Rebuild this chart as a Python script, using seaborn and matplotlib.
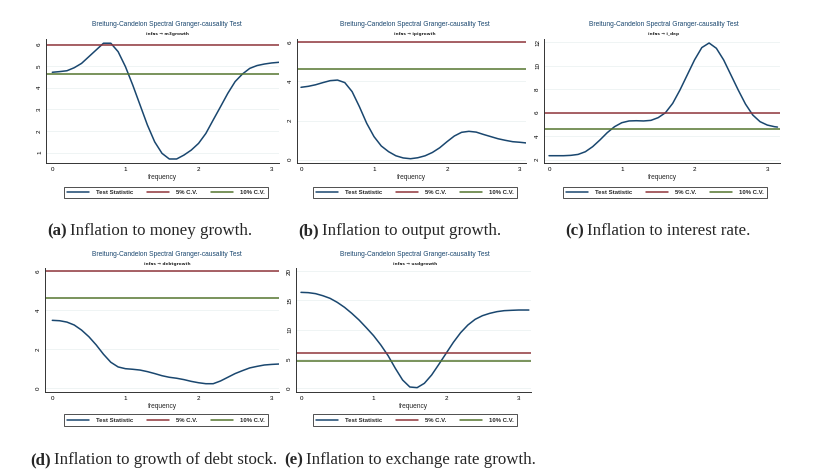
import numpy as np
import pandas as pd
import seaborn as sns
import matplotlib.pyplot as plt

# frequency grid (0 .. pi)
freq = [0.0, 0.1, 0.2, 0.3, 0.4, 0.5, 0.6, 0.7, 0.8, 0.9, 1.0, 1.1, 1.2, 1.3, 1.4, 1.5,
        1.6, 1.7, 1.8, 1.9, 2.0, 2.1, 2.2, 2.3, 2.4, 2.5, 2.6, 2.7, 2.8, 2.9, 3.0, 3.1, 3.14]

# test statistic curves, one per panel
m3growth = [4.71, 4.74, 4.78, 4.92, 5.12, 5.43, 5.74, 6.05, 6.05, 5.66, 4.97, 4.12, 3.20, 2.28,
            1.50, 0.97, 0.71, 0.71, 0.89, 1.12, 1.43, 1.89, 2.51, 3.12, 3.74, 4.28, 4.63, 4.89,
            5.02, 5.09, 5.14, 5.17, 5.18]
ipigrowth = [3.70, 3.75, 3.83, 3.94, 4.04, 4.07, 3.94, 3.48, 2.71, 1.86, 1.18, 0.70, 0.41, 0.20,
             0.09, 0.05, 0.10, 0.20, 0.37, 0.61, 0.92, 1.21, 1.40, 1.45, 1.41, 1.29, 1.18, 1.07,
             0.99, 0.92, 0.89, 0.85, 0.84]
i_dep = [2.34, 2.34, 2.34, 2.37, 2.45, 2.68, 3.11, 3.68, 4.30, 4.81, 5.15, 5.30, 5.32, 5.30,
         5.35, 5.58, 6.00, 6.80, 7.94, 9.22, 10.50, 11.55, 11.94, 11.49, 10.50, 9.22, 7.94, 6.74,
         5.81, 5.24, 4.95, 4.81, 4.78]
debtgrowth = [3.47, 3.45, 3.38, 3.23, 2.97, 2.63, 2.21, 1.73, 1.32, 1.08, 0.99, 0.96, 0.92, 0.84,
              0.74, 0.63, 0.55, 0.50, 0.43, 0.34, 0.27, 0.22, 0.22, 0.36, 0.55, 0.74, 0.89, 1.03,
              1.11, 1.18, 1.21, 1.23, 1.24]
usdgrowth = [16.35, 16.30, 16.13, 15.78, 15.33, 14.64, 13.79, 12.76, 11.62, 10.31, 8.95, 7.35,
             5.53, 3.36, 1.37, 0.17, 0.06, 0.80, 2.22, 4.05, 5.93, 7.81, 9.46, 10.77, 11.74,
             12.36, 12.76, 13.05, 13.22, 13.28, 13.33, 13.33, 13.33]

cv5 = 5.99
cv10 = 4.61

subtitles = ['infas → m3growth', 'infas → ipigrowth', 'infas → i_dep',
             'infas → debtgrowth', 'infas → usdgrowth']
yticks = [[1, 2, 3, 4, 5, 6], [0, 2, 4, 6], [2, 4, 6, 8, 10, 12], [0, 2, 4, 6], [0, 5, 10, 15, 20]]
cap_tags = ['(a)', '(b)', '(c)', '(d)', '(e)']
cap_texts = ['Inflation to money growth.', 'Inflation to output growth.',
             'Inflation to interest rate.', 'Inflation to growth of debt stock.',
             'Inflation to exchange rate growth.']

W, H = 825, 473
navy = '#1a476f'
maroon = '#90353b'
green = '#55752f'

sns.set_style('white')
plt.rcParams['font.family'] = ['Liberation Sans', 'DejaVu Sans']

fig = plt.figure(figsize=(W / 100, H / 100), dpi=100)

# pixel layout: axes box (l, t, r, b), pixel of x=0 and x=3, two y reference ticks,
# title centre, legend box, caption position
layout = [
    dict(box=(46, 39, 279, 163.3), xpx=(52.3, 271.7), ypx=((6, 44.3), (1, 152.7)),
         tc=(167, 25), leg=(64, 186, 268, 198.3), cap=(47, 231)),
    dict(box=(296.7, 39, 526, 163.3), xpx=(301, 520), ypx=((6, 42.3), (0, 159.7)),
         tc=(415, 25), leg=(313, 186, 517, 198.3), cap=(298, 231)),
    dict(box=(544, 39, 780, 163.3), xpx=(549, 767.3), ypx=((12, 42.3), (2, 159.7)),
         tc=(664, 25), leg=(563, 186, 767, 198.3), cap=(565, 231)),
    dict(box=(45, 268, 279, 391.7), xpx=(52.3, 271.7), ypx=((6, 271), (0, 388)),
         tc=(167, 255), leg=(64, 415.7, 268, 426), cap=(30, 460)),
    dict(box=(296, 268, 531, 391.7), xpx=(301, 518.7), ypx=((20, 271), (0, 388)),
         tc=(415, 255), leg=(313, 416, 517, 426), cap=(284, 460)),
]

series = [m3growth, ipigrowth, i_dep, debtgrowth, usdgrowth]

for k, (vals, lay) in enumerate(zip(series, layout)):
    l, t, r, b = lay['box']
    ax = fig.add_axes([l / W, 1 - b / H, (r - l) / W, (b - t) / H])
    df = pd.DataFrame({'frequency': freq, 'stat': vals})
    sns.lineplot(data=df, x='frequency', y='stat', ax=ax, color=navy, lw=1.1,
                 label='Test Statistic')
    ax.axhline(cv5, color=maroon, lw=1.1, label='5% C.V.')
    ax.axhline(cv10, color=green, lw=1.1, label='10% C.V.')

    x0, x3 = lay['xpx']
    ax.set_xlim((l - x0) / (x3 - x0) * 3, (r - x0) / (x3 - x0) * 3)
    (v1, p1), (v2, p2) = lay['ypx']
    slope = (v2 - v1) / (p2 - p1)
    ax.set_ylim(v1 + (b - p1) * slope, v1 + (t - p1) * slope)

    ax.set_xticks([0, 1, 2, 3])
    ax.set_yticks(yticks[k])
    ax.tick_params(labelsize=4.5, length=1.8, width=0.5, pad=1.0, colors='black')
    for lab in ax.get_yticklabels():
        lab.set_rotation(90)
        lab.set_va('center')
    ax.yaxis.grid(True, color='#edf2f3', lw=0.6)
    ax.set_axisbelow(True)
    for s in ['top', 'right']:
        ax.spines[s].set_visible(False)
    for s in ['left', 'bottom']:
        ax.spines[s].set_color('#333333')
        ax.spines[s].set_linewidth(0.7)
    ax.set_xlabel('frequency', fontsize=4.8, labelpad=1.5)
    ax.set_ylabel('')

    fig.text(lay['tc'][0] / W, 1 - lay['tc'][1] / H,
             'Breitung-Candelon Spectral Granger-causality Test',
             fontsize=4.8, color=navy, ha='center', va='center')
    fig.text(lay['tc'][0] / W, 1 - (lay['tc'][1] + 8.5) / H, subtitles[k],
             fontsize=3.1, fontweight='bold', ha='center', va='center',
             family=['DejaVu Sans'])

    gl, gt, gr, gb = lay['leg']
    leg = ax.legend(loc='lower left', bbox_to_anchor=(gl / W, 1 - gb / H, (gr - gl) / W, (gb - gt) / H),
                    bbox_transform=fig.transFigure, mode='expand', ncol=3, fontsize=4.3,
                    frameon=True, fancybox=False, handlelength=3.6, handletextpad=1.2,
                    borderpad=0.55, borderaxespad=0)
    leg.get_frame().set_edgecolor('black')
    leg.get_frame().set_linewidth(0.6)
    for txt in leg.get_texts():
        txt.set_fontweight('bold')

renderer = fig.canvas.get_renderer()
for k, lay in enumerate(layout):
    cx, cy = lay['cap']
    tag = fig.text(cx / W, 1 - cy / H, cap_tags[k], fontsize=12.2, fontweight='bold',
                   family='Liberation Serif', va='center', ha='left')
    bb = tag.get_window_extent(renderer=renderer)
    fig.text((bb.x1 + 3.5) / W, 1 - cy / H, cap_texts[k], fontsize=12.2,
             family='Liberation Serif', va='center', ha='left')

fig.savefig('out.png', dpi=100)
